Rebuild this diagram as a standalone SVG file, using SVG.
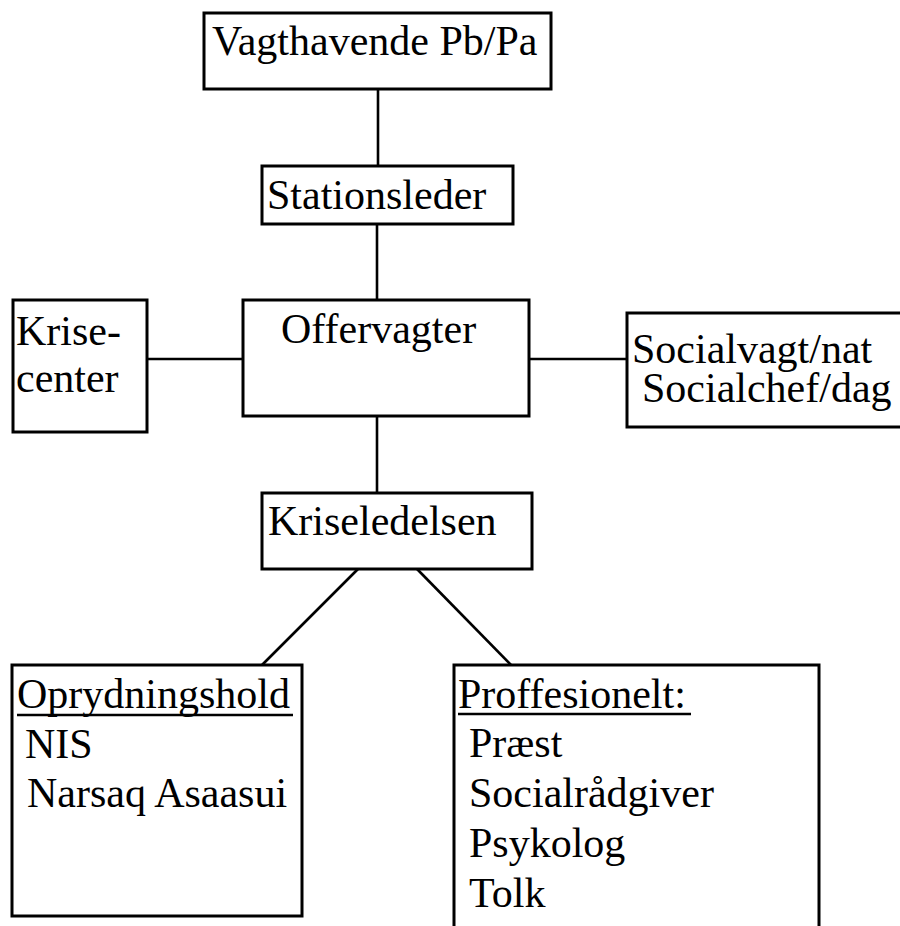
<svg xmlns="http://www.w3.org/2000/svg" width="900" height="926" viewBox="0 0 900 926">
  <style>
    .box { fill: #fff; stroke: #000; stroke-width: 3; }
    .link { stroke: #000; stroke-width: 2.6; fill: none; }
    .ul { stroke: #000; stroke-width: 2.5; }
    .lbl { font-family: 'Liberation Serif', 'Times New Roman', serif; font-size: 42px; fill: #000; }
  </style>
  <rect width="900" height="926" fill="#fff"/>

  <!-- connectors -->
  <g id="connectors">
    <line class="link" x1="378" y1="89" x2="378" y2="166"/>
    <line class="link" x1="377" y1="224" x2="377" y2="300"/>
    <line class="link" x1="147" y1="359" x2="243" y2="359"/>
    <line class="link" x1="529" y1="359" x2="627" y2="359"/>
    <line class="link" x1="377" y1="416" x2="377" y2="493"/>
    <line class="link" x1="358" y1="569" x2="262" y2="665"/>
    <line class="link" x1="417" y1="569" x2="511" y2="665"/>
  </g>

  <g id="vagthavende">
    <rect class="box" x="204" y="13" width="347" height="76"/>
    <text class="lbl" x="212" y="55">Vagthavende Pb/Pa</text>
  </g>

  <g id="stationsleder">
    <rect class="box" x="262" y="166" width="251" height="58"/>
    <text class="lbl" x="267" y="209">Stationsleder</text>
  </g>

  <g id="krisecenter">
    <rect class="box" x="13" y="300" width="134" height="132"/>
    <text class="lbl" x="16" y="345">Krise-</text>
    <text class="lbl" x="16" y="392">center</text>
  </g>

  <g id="offervagter">
    <rect class="box" x="243" y="300" width="286" height="116"/>
    <text class="lbl" x="281" y="343">Offervagter</text>
  </g>

  <!-- right edge runs off the page -->
  <g id="socialvagt">
    <rect class="box" x="627" y="313" width="300" height="114"/>
    <text class="lbl" x="632" y="363">Socialvagt/nat</text>
    <text class="lbl" x="642" y="402">Socialchef/dag</text>
  </g>

  <g id="kriseledelsen">
    <rect class="box" x="262" y="493" width="270" height="76"/>
    <text class="lbl" x="268" y="535">Kriseledelsen</text>
  </g>

  <g id="oprydningshold">
    <rect class="box" x="12" y="665" width="290" height="251"/>
    <text class="lbl" x="17" y="708">Oprydningshold</text>
    <line class="ul" x1="17" y1="715" x2="293" y2="715"/>
    <text class="lbl" x="25" y="758">NIS</text>
    <text class="lbl" x="27" y="807">Narsaq Asaasui</text>
  </g>

  <!-- bottom edge runs off the page -->
  <g id="proffesionelt">
    <rect class="box" x="454" y="665" width="365" height="300"/>
    <text class="lbl" x="458" y="708">Proffesionelt:</text>
    <line class="ul" x1="458" y1="714" x2="691" y2="714"/>
    <text class="lbl" x="469" y="757">Præst</text>
    <text class="lbl" x="469" y="807">Socialrådgiver</text>
    <text class="lbl" x="469" y="857">Psykolog</text>
    <text class="lbl" x="469" y="907">Tolk</text>
  </g>
</svg>
